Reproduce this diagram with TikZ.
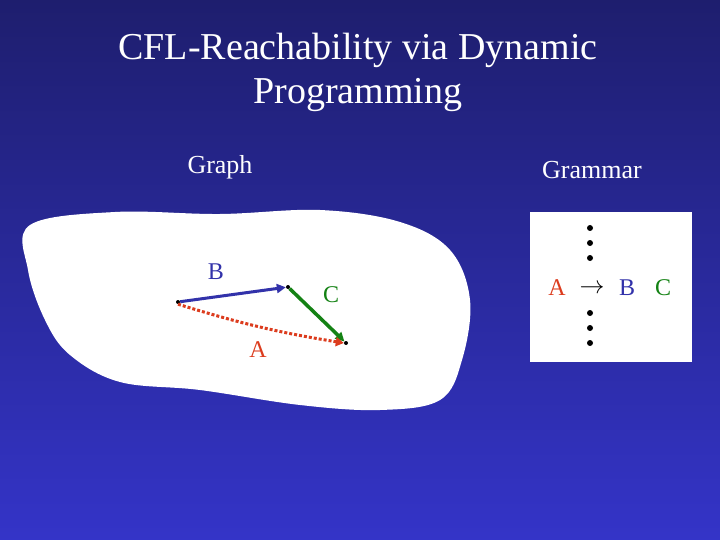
\documentclass[tikz,border=0pt]{standalone}
\usepackage{fontspec}
\setmainfont{Liberation Serif}
\usetikzlibrary{arrows.meta}
\definecolor{bgtop}{RGB}{30,30,110}
\definecolor{bgbot}{RGB}{52,52,200}
\definecolor{eblue}{RGB}{50,50,170}
\definecolor{egreen}{RGB}{20,130,20}
\definecolor{ered}{RGB}{220,60,30}
\tikzset{
  lbl/.style={font=\fontsize{24}{26}\selectfont, inner sep=0pt},
  vtx/.style={circle, fill=black, inner sep=0pt, minimum size=4pt},
  gdot/.style={circle, fill=black, inner sep=0pt, minimum size=6pt},
}
\begin{document}
\begin{tikzpicture}[x=1pt,y=-1pt]
\shade[top color=bgtop, bottom color=bgbot] (0,0) rectangle (720,540);
\useasboundingbox (0,0) rectangle (720,540);
\node[lbl, white, font=\fontsize{38}{44}\selectfont, align=center] (title) at (358,72) {CFL-Reachability via Dynamic\\Programming};
\node[lbl, white, font=\fontsize{26}{28}\selectfont] (graph) at (220,167) {Graph};
\node[lbl, white, font=\fontsize{26}{28}\selectfont] (grammar) at (592,170) {Grammar};
% blob
\fill[white] plot[smooth cycle, tension=0.6] coordinates {(30,225) (115,212) (220,214) (320,210) (400,222) (450,250) (470,300) (462,360) (440,400) (380,410) (300,405) (200,390) (120,382) (70,355) (45,320) (28,270)};
\node[vtx] (n1) at (178,302) {};
\node[vtx] (n2) at (288,287) {};
\node[vtx] (n3) at (346,343) {};
\draw[eblue, line width=3pt, -{Triangle[length=9pt,width=9pt]}] (n1) -- (n2);
\draw[egreen, line width=3.5pt, -{Triangle[length=9pt,width=9pt]}] (n2) -- (n3);
\draw[ered, line width=3pt, dotted, -{Triangle[length=8pt,width=9pt]}] (n1.south) to[bend right=4] (n3.west);
\node[lbl, eblue] (lb) at (216,272) {B};
\node[lbl, egreen] (lc) at (331,295) {C};
\node[lbl, ered] (la) at (258,350) {A};
% grammar box
\fill[white] (530,212) rectangle (692,362);
\foreach \y [count=\i] in {228,243,258,313,328,343} \node[gdot] (d\i) at (590,\y) {};
\node[lbl, ered] (ga) at (557,288) {A};
\node[lbl] (gar) at (592,289) {$\rightarrow$};
\node[lbl, eblue] (gb) at (627,288) {B};
\node[lbl, egreen] (gc) at (663,288) {C};
\end{tikzpicture}
\end{document}
